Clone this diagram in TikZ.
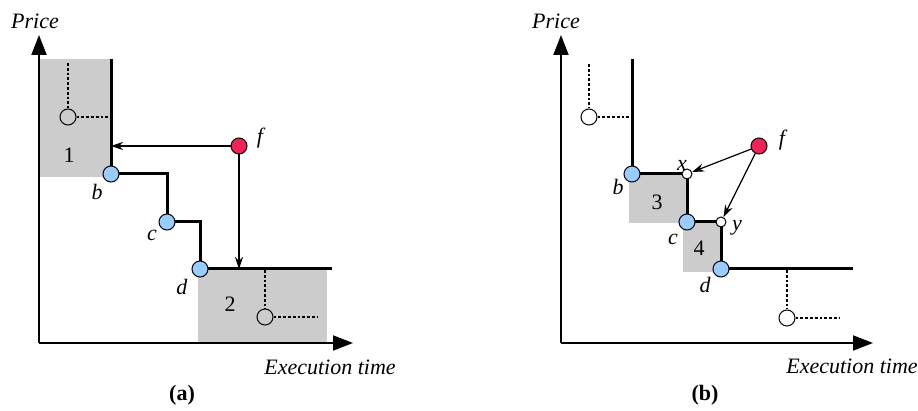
\documentclass[tikz,border=0pt]{standalone}
\usepackage{fontspec}
\setmainfont{Liberation Serif}
\usetikzlibrary{arrows.meta,positioning}

\definecolor{bidblue}{RGB}{153,204,255}
\definecolor{jobred}{RGB}{238,36,88}
\definecolor{zonegray}{RGB}{204,204,204}

\tikzset{
  axis/.style = {line width=1pt, -{Triangle[length=10pt,width=7.5pt]}},
  curve/.style = {line width=1.5pt},
  guide/.style = {line width=0.9pt, dash pattern=on 1.4pt off 1pt},
  move/.style = {line width=0.6pt, -{Stealth[length=6pt,width=4pt]}},
  zone/.style = {fill=zonegray},
  bid/.style = {circle, draw, line width=0.5pt, fill=bidblue, minimum size=8pt, inner sep=0pt},
  job/.style = {circle, draw, line width=0.5pt, fill=jobred, minimum size=8pt, inner sep=0pt},
  hollow/.style = {circle, draw, line width=0.5pt, minimum size=8pt, inner sep=0pt},
  cut/.style = {circle, draw, line width=0.5pt, fill=white, minimum size=5pt, inner sep=0pt},
  lbl/.style = {font=\fontsize{11}{13}\selectfont\itshape, inner sep=0pt},
  num/.style = {font=\fontsize{11}{13}\selectfont, inner sep=0pt}
}

\begin{document}
\begin{tikzpicture}[x=0.5pt, y=-0.5pt]
\useasboundingbox (0,0) rectangle (918,411);

%% ---- left: (a)
\coordinate (oa) at (39,343);
\coordinate (pa) at (39,35);
\coordinate (ta) at (353,343);
\coordinate (topa) at (111,59);
\coordinate (ba) at (111,174);
\coordinate (ca) at (167,222);
\coordinate (da) at (200,269);
\coordinate (enda) at (332,269);
\coordinate (hita) at (111,146);
\coordinate (hitb) at (239,269);

\fill[zone] (39,59) rectangle (110,177);
\fill[zone] (198,269) rectangle (327,343);

\draw[axis] (oa) -- (pa);
\draw[axis] (oa) -- (ta);
\draw[curve] (topa) -- (ba) -| (ca) -| (da) -- (enda);

\node[hollow] (ua) at (68,117) {};
\node[hollow] (va) at (265,317) {};
\draw[guide] (68,63) -- (ua);
\draw[guide] (ua) -- (111,117);
\draw[guide] (265,270) -- (va);
\draw[guide] (va) -- (318,317);

\node[job] (fa) at (239,146) {};
\draw[move] (fa) -- (hita);
\draw[move] (fa) -- (hitb);

\node[bid] (nba) at (ba) {};
\node[bid] (nca) at (ca) {};
\node[bid] (nda) at (da) {};

\node[lbl] (lba) at (97,192) {b};
\node[lbl] (lca) at (152,235) {c};
\node[lbl] (lda) at (182,287) {d};
\node[lbl] (lfa) at (260,138) {f};
\node[num] (z1) at (69,155) {1};
\node[num] (z2) at (230,304) {2};

\node[lbl] (pricea) at (35,21) {Price};
\node[lbl] (timea) at (330,367) {Execution time};
\node[num, font=\fontsize{11}{13}\selectfont\bfseries] (capa) at (182,395) {(a)};

%% ---- right: (b)
\coordinate (ob) at (561,343);
\coordinate (pb) at (561,35);
\coordinate (tb) at (873,343);
\coordinate (topb) at (632,59);
\coordinate (bb) at (632,174);
\coordinate (xb) at (687,174);
\coordinate (cb) at (687,222);
\coordinate (yb) at (721,222);
\coordinate (db) at (721,269);
\coordinate (endb) at (853,269);

\fill[zone] (629,174) rectangle (687,223);
\fill[zone] (683,223) rectangle (721,272);

\draw[axis] (ob) -- (pb);
\draw[axis] (ob) -- (tb);
\draw[curve] (topb) -- (bb) -- (xb) -- (cb) -- (yb) -- (db) -- (endb);

\node[hollow] (ub) at (589,117) {};
\node[hollow] (vb) at (787,318) {};
\draw[guide] (589,64) -- (ub);
\draw[guide] (ub) -- (632,117);
\draw[guide] (787,270) -- (vb);
\draw[guide] (vb) -- (840,318);

\node[bid] (nbb) at (bb) {};
\node[bid] (ncb) at (cb) {};
\node[bid] (ndb) at (db) {};
\node[cut] (nxb) at (xb) {};
\node[cut] (nyb) at (yb) {};
\node[job] (fb) at (759,146) {};
\draw[move] (fb) -- (nxb);
\draw[move] (fb) -- (nyb);

\node[lbl] (lbb) at (618,187) {b};
\node[lbl] (lcb) at (673,239) {c};
\node[lbl] (ldb) at (705,285) {d};
\node[lbl] (lxb) at (682,165) {x};
\node[lbl] (lyb) at (737,228) {y};
\node[lbl] (lfb) at (782,140) {f};
\node[num] (z3) at (657,202) {3};
\node[num] (z4) at (699,248) {4};

\node[lbl] (priceb) at (556,21) {Price};
\node[lbl] (timeb) at (852,366) {Execution time};
\node[num, font=\fontsize{11}{13}\selectfont\bfseries] (capb) at (705,395) {(b)};
\end{tikzpicture}
\end{document}
